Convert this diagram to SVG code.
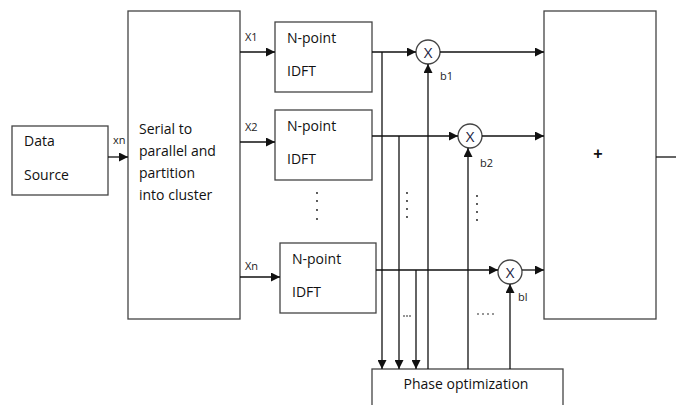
<svg xmlns="http://www.w3.org/2000/svg" width="676" height="405" viewBox="0 0 676 405">
<style>
.box{fill:#fff;stroke:#444;stroke-width:1.3}
.ln{fill:none;stroke:#111;stroke-width:1.3}
.t{font-family:"Open Sans","Liberation Sans",sans-serif;font-size:14px;fill:#111}
.s{font-family:"Open Sans","Liberation Sans",sans-serif;font-size:11px;fill:#222}
.x{font-family:"Open Sans","Liberation Sans",sans-serif;font-size:15px;fill:#1a1a40}
.dot{fill:#111}
</style>
<defs>
<marker id="ah" viewBox="0 0 10 10" refX="10" refY="5" markerWidth="9" markerHeight="9" markerUnits="userSpaceOnUse" orient="auto">
<path d="M0,0 L10,5 L0,10 z" fill="#111"/>
</marker>
</defs>
<rect width="676" height="405" fill="#fff"/>
<g id="data-source">
<rect class="box" x="12" y="126" width="96" height="69"/>
<text class="t" x="24" y="146">Data</text>
<text class="t" x="24" y="180">Source</text>
</g>
<g id="serial-to-parallel">
<rect class="box" x="128" y="11" width="112" height="308"/>
<text class="t" x="139" y="134">Serial to</text>
<text class="t" x="139" y="156">parallel and</text>
<text class="t" x="139" y="178">partition</text>
<text class="t" x="139" y="200">into cluster</text>
</g>
<g id="idft1">
<rect class="box" x="275" y="22" width="97" height="70"/>
<text class="t" x="287" y="43">N-point</text>
<text class="t" x="287" y="76">IDFT</text>
</g>
<g id="idft2">
<rect class="box" x="275" y="110" width="97" height="70"/>
<text class="t" x="287" y="131">N-point</text>
<text class="t" x="287" y="164">IDFT</text>
</g>
<g id="idftn">
<rect class="box" x="280" y="243" width="96" height="70"/>
<text class="t" x="292" y="264">N-point</text>
<text class="t" x="292" y="297">IDFT</text>
</g>
<g id="mult1">
<circle class="box" cx="428" cy="52" r="12"/>
<text class="x" x="428" y="57.5" text-anchor="middle">X</text>
</g>
<g id="mult2">
<circle class="box" cx="470" cy="136" r="12"/>
<text class="x" x="470" y="141.5" text-anchor="middle">X</text>
</g>
<g id="mult3">
<circle class="box" cx="510" cy="272" r="12"/>
<text class="x" x="510" y="277.5" text-anchor="middle">X</text>
</g>
<g id="sum">
<rect class="box" x="544" y="11" width="112" height="308"/>
<text x="598" y="159" text-anchor="middle" font-family="Liberation Sans, sans-serif" font-size="16" font-weight="bold" fill="#111">+</text>
</g>
<g id="phase-opt">
<rect class="box" x="372" y="369" width="191" height="40"/>
<text class="t" x="466" y="389" text-anchor="middle" fill="#1a1a40">Phase optimization</text>
</g>
<g id="connectors">
<line class="ln" x1="108" y1="157" x2="128" y2="157" marker-end="url(#ah)"/>
<line class="ln" x1="240" y1="52" x2="275" y2="52" marker-end="url(#ah)"/>
<line class="ln" x1="240" y1="142" x2="275" y2="142" marker-end="url(#ah)"/>
<line class="ln" x1="240" y1="277" x2="280" y2="277" marker-end="url(#ah)"/>
<line class="ln" x1="372" y1="52" x2="416" y2="52" marker-end="url(#ah)"/>
<line class="ln" x1="440" y1="52" x2="544" y2="52" marker-end="url(#ah)"/>
<line class="ln" x1="372" y1="136" x2="458" y2="136" marker-end="url(#ah)"/>
<line class="ln" x1="482" y1="136" x2="544" y2="136" marker-end="url(#ah)"/>
<line class="ln" x1="376" y1="270" x2="498" y2="270" marker-end="url(#ah)"/>
<line class="ln" x1="522" y1="270" x2="544" y2="270" marker-end="url(#ah)"/>
<line class="ln" x1="656" y1="157" x2="676" y2="157"/>
<line class="ln" x1="382" y1="52" x2="382" y2="369" marker-end="url(#ah)"/>
<line class="ln" x1="399" y1="136" x2="399" y2="369" marker-end="url(#ah)"/>
<line class="ln" x1="416" y1="270" x2="416" y2="369" marker-end="url(#ah)"/>
<line class="ln" x1="428" y1="369" x2="428" y2="64" marker-end="url(#ah)"/>
<line class="ln" x1="468" y1="369" x2="468" y2="148" marker-end="url(#ah)"/>
<line class="ln" x1="510" y1="369" x2="510" y2="284" marker-end="url(#ah)"/>
</g>
<g id="labels">
<text class="s" x="113" y="144">xn</text>
<text class="s" x="245" y="41">X1</text>
<text class="s" x="245" y="131">X2</text>
<text class="s" x="245" y="270">Xn</text>
<text class="s" x="440" y="80">b1</text>
<text class="s" x="480" y="167">b2</text>
<text class="s" x="518" y="301">bl</text>
</g>
<g id="dots">
<circle class="dot" cx="317" cy="193" r="0.9"/>
<circle class="dot" cx="317" cy="201" r="0.9"/>
<circle class="dot" cx="317" cy="210" r="0.9"/>
<circle class="dot" cx="317" cy="219" r="0.9"/>
<circle class="dot" cx="407" cy="193" r="0.9"/>
<circle class="dot" cx="407" cy="201" r="0.9"/>
<circle class="dot" cx="407" cy="209" r="0.9"/>
<circle class="dot" cx="407" cy="217" r="0.9"/>
<circle class="dot" cx="477" cy="196" r="0.9"/>
<circle class="dot" cx="477" cy="204" r="0.9"/>
<circle class="dot" cx="477" cy="212" r="0.9"/>
<circle class="dot" cx="477" cy="220" r="0.9"/>
<circle class="dot" cx="404" cy="316" r="0.8"/>
<circle class="dot" cx="407" cy="316" r="0.8"/>
<circle class="dot" cx="410" cy="316" r="0.8"/>
<circle class="dot" cx="478" cy="314" r="0.8"/>
<circle class="dot" cx="483" cy="314" r="0.8"/>
<circle class="dot" cx="488" cy="314" r="0.8"/>
<circle class="dot" cx="493" cy="314" r="0.8"/>
</g>
</svg>
